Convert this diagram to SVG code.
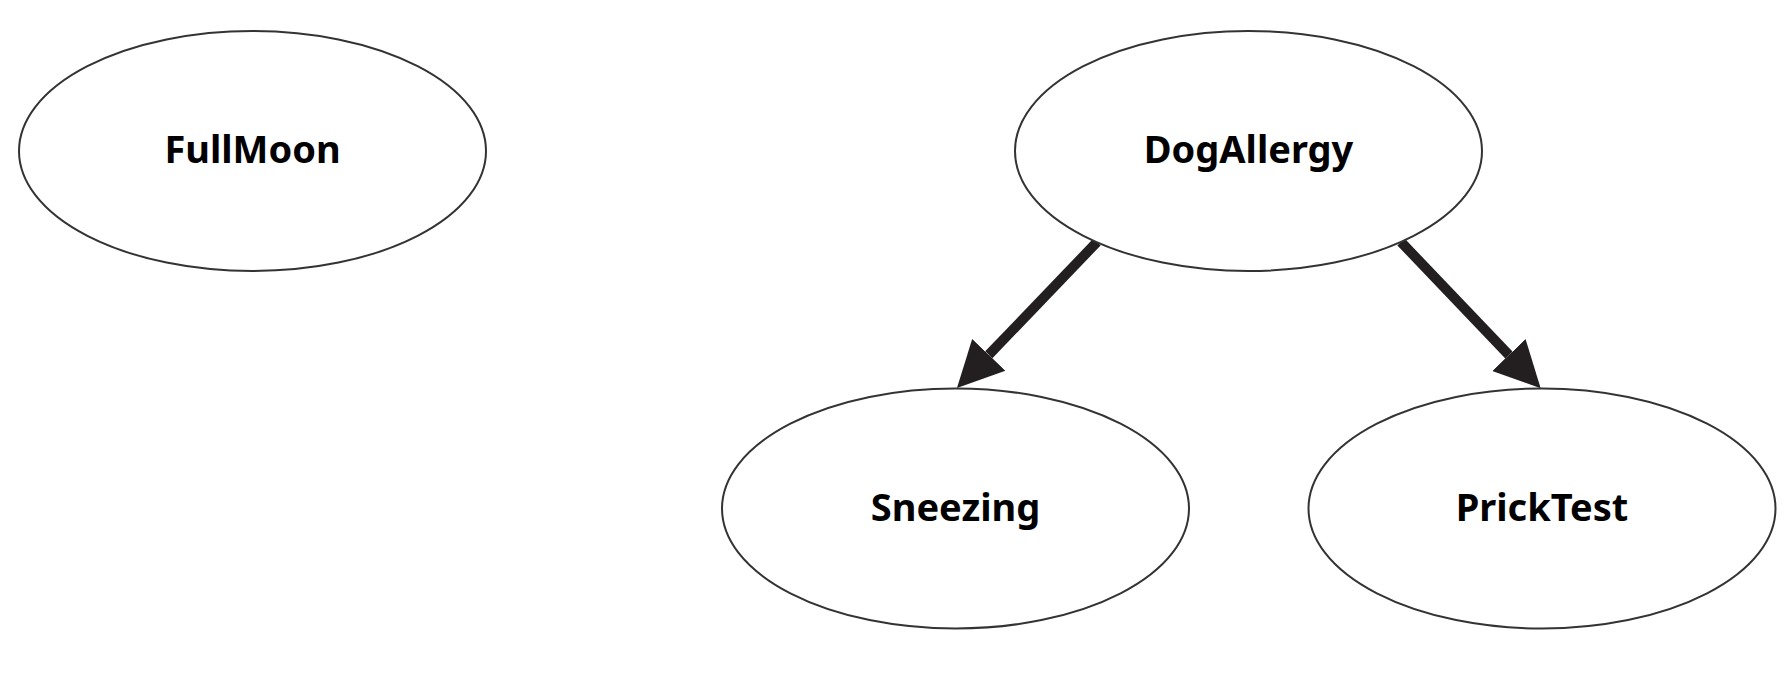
<svg xmlns="http://www.w3.org/2000/svg" width="1787" height="674" viewBox="0 0 1787 674">
<style>
.node ellipse{fill:#fff;stroke:#333;stroke-width:2}
.node text{font-family:"Noto Sans","Open Sans",sans-serif;font-weight:bold;font-size:38px;fill:#000;text-anchor:middle}
.edge{stroke:#231f20;stroke-width:10;fill:none}
</style>
<defs>
<marker id="ah" viewBox="0 0 10 10" refX="0" refY="5" markerUnits="userSpaceOnUse" markerWidth="46" markerHeight="52" orient="auto">
<path d="M0,0 L10,5 L0,10 z" fill="#231f20"/>
</marker>
</defs>
<rect width="1787" height="674" fill="#fff"/>
<g id="connectors">
<line class="edge" x1="1097" y1="242" x2="988.8" y2="354.8" marker-end="url(#ah)"/>
<line class="edge" x1="1401" y1="242" x2="1508.9" y2="355" marker-end="url(#ah)"/>
</g>
<g id="FullMoon" class="node">
<ellipse cx="252.5" cy="151" rx="233.5" ry="120"/>
<text x="252.5" y="163">FullMoon</text>
</g>
<g id="DogAllergy" class="node">
<ellipse cx="1248.5" cy="151" rx="233.5" ry="120"/>
<text x="1248.5" y="163">DogAllergy</text>
</g>
<g id="Sneezing" class="node">
<ellipse cx="955.5" cy="508.5" rx="233.5" ry="120"/>
<text x="955.5" y="521">Sneezing</text>
</g>
<g id="PrickTest" class="node">
<ellipse cx="1542" cy="508.5" rx="233.5" ry="120"/>
<text x="1542" y="521">PrickTest</text>
</g>
</svg>
